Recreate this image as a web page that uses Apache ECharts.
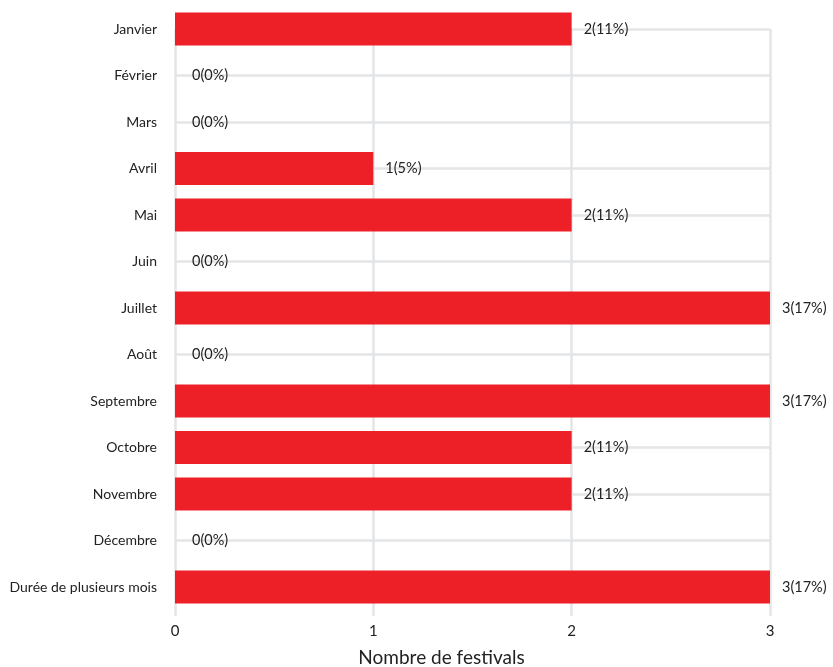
<!DOCTYPE html>
<html>
<head>
<meta charset="utf-8">
<script src="https://cdn.jsdelivr.net/npm/echarts@6/dist/echarts.min.js"></script>
<style>
html,body{margin:0;padding:0;background:#fff;}
#chart{width:833px;height:667px;}
</style>
</head>
<body>
<div id="chart"></div>
<script>
const categories = ["Janvier","Février","Mars","Avril","Mai","Juin","Juillet","Août","Septembre","Octobre","Novembre","Décembre","Durée de plusieurs mois"];
const counts = [2,0,0,1,2,0,3,0,3,2,2,0,3];
const percents = [11,0,0,5,11,0,17,0,17,11,11,0,17];
const xTicks = [0,1,2,3];
const axisTitle = "Nombre de festivals";

const FONT = "Lato, 'Noto Sans', sans-serif";
const GRID = "#e3e5e6";
const chart = echarts.init(document.getElementById('chart'));
chart.setOption({
  animation: false,
  grid: {left: 175, right: 63, top: 29, bottom: 80, containLabel: false, outerBoundsMode: 'none'},
  xAxis: {
    type: 'value',
    min: xTicks[0], max: xTicks[xTicks.length-1], interval: 1,
    axisLine: {show: false},
    axisTick: {show: true, length: 29, lineStyle: {color: GRID, width: 2.5}},
    splitLine: {show: true, lineStyle: {color: GRID, width: 2.5}},
    axisLabel: {margin: 37, fontSize: 15, color: '#222', fontFamily: FONT},
    name: axisTitle,
    nameLocation: 'middle',
    nameGap: 61,
    nameTextStyle: {fontSize: 19, color: '#222', fontFamily: FONT, padding: [0, 62, 0, 0]}
  },
  yAxis: {
    type: 'category',
    data: categories,
    inverse: true,
    boundaryGap: false,
    axisLine: {show: false},
    axisTick: {show: false},
    splitLine: {show: true, lineStyle: {color: GRID, width: 2.5}},
    axisLabel: {margin: 18, fontSize: 14, color: '#222', fontFamily: FONT}
  },
  series: [{
    type: 'bar',
    data: counts.map(v => v === 0 ? {value: v, label: {distance: 17}} : v),
    barWidth: 33,
    itemStyle: {color: '#ed1f27'},
    label: {
      show: true,
      position: 'right',
      distance: 12,
      fontSize: 14.5,
      color: '#222',
      fontFamily: FONT,
      formatter: p => p.value + '(' + percents[p.dataIndex] + '%)'
    }
  }]
});
</script>
</body>
</html>
